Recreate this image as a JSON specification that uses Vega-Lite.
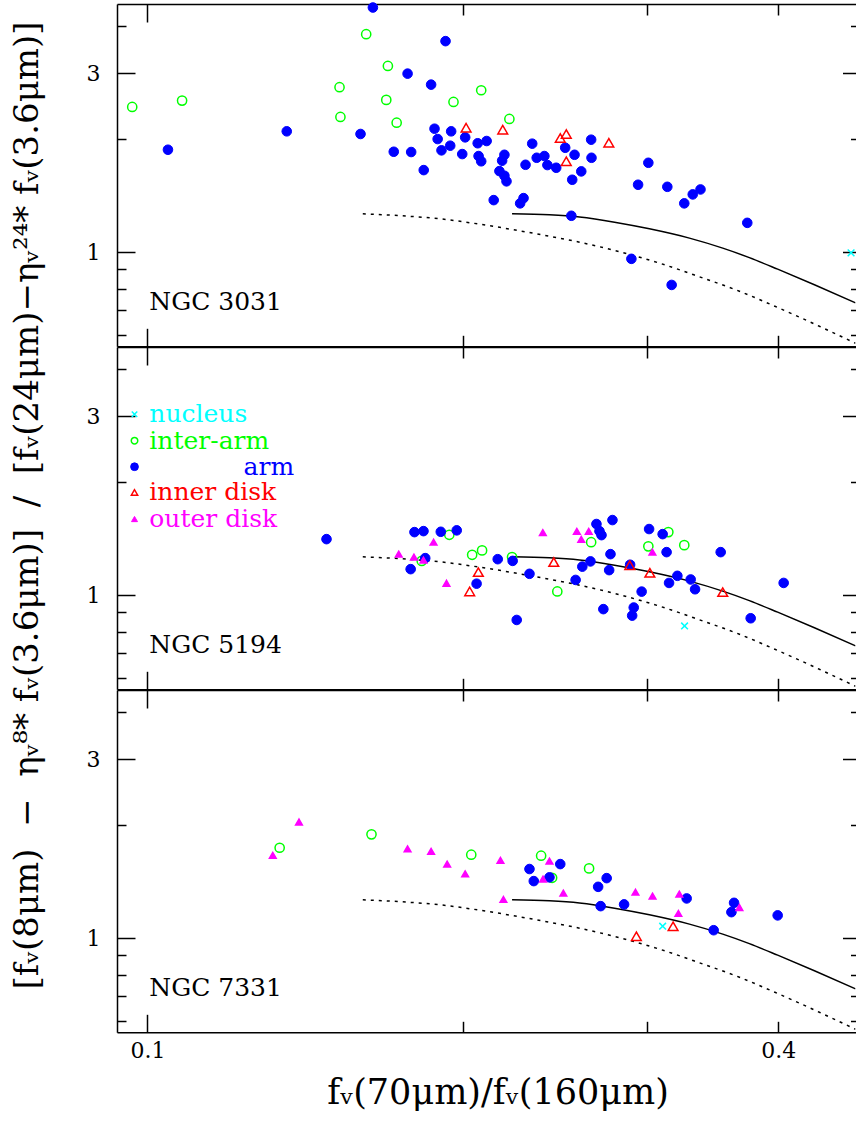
{
  "$schema": "https://vega.github.io/schema/vega-lite/v6.json",
  "padding": {"left": 10, "top": 0, "right": 0, "bottom": 0},
  "bounds": "flush",
  "spacing": 0,
  "config": {
    "view": {"stroke": null},
    "font": "DejaVu Serif",
    "axis": {"grid": false, "domainColor": "#000", "domainWidth": 1.5, "tickColor": "#000", "tickWidth": 1.5, "labelFont": "DejaVu Serif", "labelFontSize": 22, "labelColor": "#000", "titleFont": "DejaVu Serif", "titleFontWeight": "normal", "titleColor": "#000", "labelFlush": false, "labelOverlap": false, "titleLimit": 3000}
  },
  "datasets": {
    "solid": [
      {"x": 0.2228, "y": 1.265}, {"x": 0.2419, "y": 1.257}, {"x": 0.2584, "y": 1.240}, {"x": 0.2791, "y": 1.202}, {"x": 0.3013, "y": 1.154}, {"x": 0.3290, "y": 1.090}, {"x": 0.3540, "y": 1.025}, {"x": 0.3753, "y": 0.967}, {"x": 0.3994, "y": 0.901}, {"x": 0.4330, "y": 0.819}, {"x": 0.4739, "y": 0.733}
    ],
    "dotted": [
      {"x": 0.1605, "y": 1.265}, {"x": 0.1740, "y": 1.251}, {"x": 0.1912, "y": 1.225}, {"x": 0.2104, "y": 1.180}, {"x": 0.2330, "y": 1.124}, {"x": 0.2584, "y": 1.063}, {"x": 0.2821, "y": 1.003}, {"x": 0.3080, "y": 0.935}, {"x": 0.3363, "y": 0.860}, {"x": 0.3672, "y": 0.787}, {"x": 0.4009, "y": 0.709}, {"x": 0.4377, "y": 0.635}, {"x": 0.4739, "y": 0.572}
    ],
    "pts": [
      {"galaxy": "NGC 3031", "type": "inter-arm", "x": 0.0967, "y": 2.436},
      {"galaxy": "NGC 3031", "type": "inter-arm", "x": 0.1079, "y": 2.533},
      {"galaxy": "NGC 3031", "type": "inter-arm", "x": 0.1617, "y": 3.806},
      {"galaxy": "NGC 3031", "type": "inter-arm", "x": 0.1696, "y": 3.133},
      {"galaxy": "NGC 3031", "type": "inter-arm", "x": 0.1525, "y": 2.750},
      {"galaxy": "NGC 3031", "type": "inter-arm", "x": 0.2082, "y": 2.699},
      {"galaxy": "NGC 3031", "type": "inter-arm", "x": 0.1690, "y": 2.544},
      {"galaxy": "NGC 3031", "type": "inter-arm", "x": 0.1959, "y": 2.512},
      {"galaxy": "NGC 3031", "type": "inter-arm", "x": 0.1528, "y": 2.291},
      {"galaxy": "NGC 3031", "type": "inter-arm", "x": 0.1729, "y": 2.212},
      {"galaxy": "NGC 3031", "type": "inter-arm", "x": 0.2215, "y": 2.263},
      {"galaxy": "NGC 3031", "type": "arm", "x": 0.1046, "y": 1.874},
      {"galaxy": "NGC 3031", "type": "arm", "x": 0.1358, "y": 2.098},
      {"galaxy": "NGC 3031", "type": "arm", "x": 0.1641, "y": 4.482},
      {"galaxy": "NGC 3031", "type": "arm", "x": 0.1925, "y": 3.647},
      {"galaxy": "NGC 3031", "type": "arm", "x": 0.1771, "y": 2.988},
      {"galaxy": "NGC 3031", "type": "arm", "x": 0.1865, "y": 2.793},
      {"galaxy": "NGC 3031", "type": "arm", "x": 0.1597, "y": 2.064},
      {"galaxy": "NGC 3031", "type": "arm", "x": 0.1879, "y": 2.132},
      {"galaxy": "NGC 3031", "type": "arm", "x": 0.1949, "y": 2.098},
      {"galaxy": "NGC 3031", "type": "arm", "x": 0.1892, "y": 2.001},
      {"galaxy": "NGC 3031", "type": "arm", "x": 0.2010, "y": 2.022},
      {"galaxy": "NGC 3031", "type": "arm", "x": 0.2066, "y": 1.950},
      {"galaxy": "NGC 3031", "type": "arm", "x": 0.2107, "y": 1.977},
      {"galaxy": "NGC 3031", "type": "arm", "x": 0.1945, "y": 1.921},
      {"galaxy": "NGC 3031", "type": "arm", "x": 0.1908, "y": 1.867},
      {"galaxy": "NGC 3031", "type": "arm", "x": 0.1718, "y": 1.851},
      {"galaxy": "NGC 3031", "type": "arm", "x": 0.1785, "y": 1.848},
      {"galaxy": "NGC 3031", "type": "arm", "x": 0.1997, "y": 1.825},
      {"galaxy": "NGC 3031", "type": "arm", "x": 0.1835, "y": 1.654},
      {"galaxy": "NGC 3031", "type": "arm", "x": 0.2070, "y": 1.803},
      {"galaxy": "NGC 3031", "type": "arm", "x": 0.2082, "y": 1.746},
      {"galaxy": "NGC 3031", "type": "arm", "x": 0.2191, "y": 1.817},
      {"galaxy": "NGC 3031", "type": "arm", "x": 0.2180, "y": 1.752},
      {"galaxy": "NGC 3031", "type": "arm", "x": 0.2167, "y": 1.644},
      {"galaxy": "NGC 3031", "type": "arm", "x": 0.2191, "y": 1.598},
      {"galaxy": "NGC 3031", "type": "arm", "x": 0.2201, "y": 1.544},
      {"galaxy": "NGC 3031", "type": "arm", "x": 0.2140, "y": 1.376},
      {"galaxy": "NGC 3031", "type": "arm", "x": 0.2285, "y": 1.393},
      {"galaxy": "NGC 3031", "type": "arm", "x": 0.2268, "y": 1.349},
      {"galaxy": "NGC 3031", "type": "arm", "x": 0.2329, "y": 1.945},
      {"galaxy": "NGC 3031", "type": "arm", "x": 0.2295, "y": 1.709},
      {"galaxy": "NGC 3031", "type": "arm", "x": 0.2352, "y": 1.784},
      {"galaxy": "NGC 3031", "type": "arm", "x": 0.2392, "y": 1.803},
      {"galaxy": "NGC 3031", "type": "arm", "x": 0.2408, "y": 1.706},
      {"galaxy": "NGC 3031", "type": "arm", "x": 0.2455, "y": 1.678},
      {"galaxy": "NGC 3031", "type": "arm", "x": 0.2504, "y": 1.897},
      {"galaxy": "NGC 3031", "type": "arm", "x": 0.2556, "y": 1.817},
      {"galaxy": "NGC 3031", "type": "arm", "x": 0.2594, "y": 1.641},
      {"galaxy": "NGC 3031", "type": "arm", "x": 0.2543, "y": 1.559},
      {"galaxy": "NGC 3031", "type": "arm", "x": 0.2651, "y": 1.993},
      {"galaxy": "NGC 3031", "type": "arm", "x": 0.2653, "y": 1.784},
      {"galaxy": "NGC 3031", "type": "arm", "x": 0.2538, "y": 1.250},
      {"galaxy": "NGC 3031", "type": "arm", "x": 0.3006, "y": 1.730},
      {"galaxy": "NGC 3031", "type": "arm", "x": 0.2939, "y": 1.512},
      {"galaxy": "NGC 3031", "type": "arm", "x": 0.3134, "y": 1.493},
      {"galaxy": "NGC 3031", "type": "arm", "x": 0.3314, "y": 1.425},
      {"galaxy": "NGC 3031", "type": "arm", "x": 0.3371, "y": 1.469},
      {"galaxy": "NGC 3031", "type": "arm", "x": 0.3253, "y": 1.349},
      {"galaxy": "NGC 3031", "type": "arm", "x": 0.3736, "y": 1.197},
      {"galaxy": "NGC 3031", "type": "arm", "x": 0.2896, "y": 0.960},
      {"galaxy": "NGC 3031", "type": "arm", "x": 0.3164, "y": 0.818},
      {"galaxy": "NGC 3031", "type": "inner disk", "x": 0.2014, "y": 2.145},
      {"galaxy": "NGC 3031", "type": "inner disk", "x": 0.2183, "y": 2.119},
      {"galaxy": "NGC 3031", "type": "inner disk", "x": 0.2477, "y": 2.014},
      {"galaxy": "NGC 3031", "type": "inner disk", "x": 0.2510, "y": 2.064},
      {"galaxy": "NGC 3031", "type": "inner disk", "x": 0.2510, "y": 1.746},
      {"galaxy": "NGC 3031", "type": "inner disk", "x": 0.2756, "y": 1.956},
      {"galaxy": "NGC 3031", "type": "nucleus", "x": 0.4693, "y": 0.996},
      {"galaxy": "NGC 5194", "type": "inter-arm", "x": 0.1827, "y": 1.234},
      {"galaxy": "NGC 5194", "type": "inter-arm", "x": 0.1941, "y": 1.448},
      {"galaxy": "NGC 5194", "type": "inter-arm", "x": 0.2041, "y": 1.281},
      {"galaxy": "NGC 5194", "type": "inter-arm", "x": 0.2086, "y": 1.316},
      {"galaxy": "NGC 5194", "type": "inter-arm", "x": 0.2228, "y": 1.263},
      {"galaxy": "NGC 5194", "type": "inter-arm", "x": 0.2461, "y": 1.023},
      {"galaxy": "NGC 5194", "type": "inter-arm", "x": 0.2651, "y": 1.384},
      {"galaxy": "NGC 5194", "type": "inter-arm", "x": 0.3006, "y": 1.349},
      {"galaxy": "NGC 5194", "type": "inter-arm", "x": 0.3141, "y": 1.472},
      {"galaxy": "NGC 5194", "type": "inter-arm", "x": 0.3253, "y": 1.359},
      {"galaxy": "NGC 5194", "type": "arm", "x": 0.1482, "y": 1.410},
      {"galaxy": "NGC 5194", "type": "arm", "x": 0.1798, "y": 1.472},
      {"galaxy": "NGC 5194", "type": "arm", "x": 0.1834, "y": 1.481},
      {"galaxy": "NGC 5194", "type": "arm", "x": 0.1905, "y": 1.475},
      {"galaxy": "NGC 5194", "type": "arm", "x": 0.1973, "y": 1.488},
      {"galaxy": "NGC 5194", "type": "arm", "x": 0.1841, "y": 1.255},
      {"galaxy": "NGC 5194", "type": "arm", "x": 0.1783, "y": 1.173},
      {"galaxy": "NGC 5194", "type": "arm", "x": 0.2159, "y": 1.247},
      {"galaxy": "NGC 5194", "type": "arm", "x": 0.2231, "y": 1.234},
      {"galaxy": "NGC 5194", "type": "arm", "x": 0.2061, "y": 1.073},
      {"galaxy": "NGC 5194", "type": "arm", "x": 0.2315, "y": 1.140},
      {"galaxy": "NGC 5194", "type": "arm", "x": 0.2251, "y": 0.859},
      {"galaxy": "NGC 5194", "type": "arm", "x": 0.2562, "y": 1.098},
      {"galaxy": "NGC 5194", "type": "arm", "x": 0.2600, "y": 1.191},
      {"galaxy": "NGC 5194", "type": "arm", "x": 0.2647, "y": 1.230},
      {"galaxy": "NGC 5194", "type": "arm", "x": 0.2682, "y": 1.547},
      {"galaxy": "NGC 5194", "type": "arm", "x": 0.2700, "y": 1.481},
      {"galaxy": "NGC 5194", "type": "arm", "x": 0.2712, "y": 1.445},
      {"galaxy": "NGC 5194", "type": "arm", "x": 0.2778, "y": 1.585},
      {"galaxy": "NGC 5194", "type": "arm", "x": 0.2766, "y": 1.286},
      {"galaxy": "NGC 5194", "type": "arm", "x": 0.2758, "y": 1.166},
      {"galaxy": "NGC 5194", "type": "arm", "x": 0.2723, "y": 0.918},
      {"galaxy": "NGC 5194", "type": "arm", "x": 0.2888, "y": 1.205},
      {"galaxy": "NGC 5194", "type": "arm", "x": 0.2962, "y": 1.022},
      {"galaxy": "NGC 5194", "type": "arm", "x": 0.2911, "y": 0.927},
      {"galaxy": "NGC 5194", "type": "arm", "x": 0.2901, "y": 0.882},
      {"galaxy": "NGC 5194", "type": "arm", "x": 0.3011, "y": 1.500},
      {"galaxy": "NGC 5194", "type": "arm", "x": 0.3102, "y": 1.454},
      {"galaxy": "NGC 5194", "type": "arm", "x": 0.3129, "y": 1.302},
      {"galaxy": "NGC 5194", "type": "arm", "x": 0.3146, "y": 1.078},
      {"galaxy": "NGC 5194", "type": "arm", "x": 0.3204, "y": 1.126},
      {"galaxy": "NGC 5194", "type": "arm", "x": 0.3299, "y": 1.101},
      {"galaxy": "NGC 5194", "type": "arm", "x": 0.3331, "y": 1.037},
      {"galaxy": "NGC 5194", "type": "arm", "x": 0.3524, "y": 1.302},
      {"galaxy": "NGC 5194", "type": "arm", "x": 0.3764, "y": 0.868},
      {"galaxy": "NGC 5194", "type": "arm", "x": 0.4047, "y": 1.078},
      {"galaxy": "NGC 5194", "type": "inner disk", "x": 0.2030, "y": 1.023},
      {"galaxy": "NGC 5194", "type": "inner disk", "x": 0.2069, "y": 1.152},
      {"galaxy": "NGC 5194", "type": "inner disk", "x": 0.2442, "y": 1.225},
      {"galaxy": "NGC 5194", "type": "inner disk", "x": 0.2886, "y": 1.202},
      {"galaxy": "NGC 5194", "type": "inner disk", "x": 0.3016, "y": 1.147},
      {"galaxy": "NGC 5194", "type": "inner disk", "x": 0.3540, "y": 1.019},
      {"galaxy": "NGC 5194", "type": "outer disk", "x": 0.1737, "y": 1.286},
      {"galaxy": "NGC 5194", "type": "outer disk", "x": 0.1796, "y": 1.263},
      {"galaxy": "NGC 5194", "type": "outer disk", "x": 0.1834, "y": 1.240},
      {"galaxy": "NGC 5194", "type": "outer disk", "x": 0.1875, "y": 1.384},
      {"galaxy": "NGC 5194", "type": "outer disk", "x": 0.1929, "y": 1.076},
      {"galaxy": "NGC 5194", "type": "outer disk", "x": 0.2384, "y": 1.468},
      {"galaxy": "NGC 5194", "type": "outer disk", "x": 0.2569, "y": 1.479},
      {"galaxy": "NGC 5194", "type": "outer disk", "x": 0.2637, "y": 1.479},
      {"galaxy": "NGC 5194", "type": "outer disk", "x": 0.2594, "y": 1.408},
      {"galaxy": "NGC 5194", "type": "outer disk", "x": 0.3033, "y": 1.302},
      {"galaxy": "NGC 5194", "type": "nucleus", "x": 0.3255, "y": 0.828},
      {"galaxy": "NGC 7331", "type": "inter-arm", "x": 0.1337, "y": 1.741},
      {"galaxy": "NGC 7331", "type": "inter-arm", "x": 0.1636, "y": 1.890},
      {"galaxy": "NGC 7331", "type": "inter-arm", "x": 0.2037, "y": 1.668},
      {"galaxy": "NGC 7331", "type": "inter-arm", "x": 0.2375, "y": 1.658},
      {"galaxy": "NGC 7331", "type": "inter-arm", "x": 0.2433, "y": 1.448},
      {"galaxy": "NGC 7331", "type": "inter-arm", "x": 0.2639, "y": 1.534},
      {"galaxy": "NGC 7331", "type": "arm", "x": 0.2477, "y": 1.575},
      {"galaxy": "NGC 7331", "type": "arm", "x": 0.2315, "y": 1.528},
      {"galaxy": "NGC 7331", "type": "arm", "x": 0.2337, "y": 1.419},
      {"galaxy": "NGC 7331", "type": "arm", "x": 0.2419, "y": 1.452},
      {"galaxy": "NGC 7331", "type": "arm", "x": 0.2743, "y": 1.445},
      {"galaxy": "NGC 7331", "type": "arm", "x": 0.2692, "y": 1.370},
      {"galaxy": "NGC 7331", "type": "arm", "x": 0.2707, "y": 1.217},
      {"galaxy": "NGC 7331", "type": "arm", "x": 0.2850, "y": 1.230},
      {"galaxy": "NGC 7331", "type": "arm", "x": 0.3270, "y": 1.276},
      {"galaxy": "NGC 7331", "type": "arm", "x": 0.3470, "y": 1.050},
      {"galaxy": "NGC 7331", "type": "arm", "x": 0.3629, "y": 1.242},
      {"galaxy": "NGC 7331", "type": "arm", "x": 0.3608, "y": 1.173},
      {"galaxy": "NGC 7331", "type": "arm", "x": 0.3994, "y": 1.150},
      {"galaxy": "NGC 7331", "type": "inner disk", "x": 0.3174, "y": 1.076},
      {"galaxy": "NGC 7331", "type": "inner disk", "x": 0.2928, "y": 1.012},
      {"galaxy": "NGC 7331", "type": "outer disk", "x": 0.1317, "y": 1.662},
      {"galaxy": "NGC 7331", "type": "outer disk", "x": 0.1395, "y": 2.039},
      {"galaxy": "NGC 7331", "type": "outer disk", "x": 0.1771, "y": 1.730},
      {"galaxy": "NGC 7331", "type": "outer disk", "x": 0.1865, "y": 1.703},
      {"galaxy": "NGC 7331", "type": "outer disk", "x": 0.1932, "y": 1.575},
      {"galaxy": "NGC 7331", "type": "outer disk", "x": 0.2010, "y": 1.484},
      {"galaxy": "NGC 7331", "type": "outer disk", "x": 0.2172, "y": 1.611},
      {"galaxy": "NGC 7331", "type": "outer disk", "x": 0.2186, "y": 1.268},
      {"galaxy": "NGC 7331", "type": "outer disk", "x": 0.2419, "y": 1.604},
      {"galaxy": "NGC 7331", "type": "outer disk", "x": 0.2385, "y": 1.437},
      {"galaxy": "NGC 7331", "type": "outer disk", "x": 0.2494, "y": 1.318},
      {"galaxy": "NGC 7331", "type": "outer disk", "x": 0.2922, "y": 1.326},
      {"galaxy": "NGC 7331", "type": "outer disk", "x": 0.3034, "y": 1.294},
      {"galaxy": "NGC 7331", "type": "outer disk", "x": 0.3218, "y": 1.310},
      {"galaxy": "NGC 7331", "type": "outer disk", "x": 0.3211, "y": 1.164},
      {"galaxy": "NGC 7331", "type": "outer disk", "x": 0.3672, "y": 1.207},
      {"galaxy": "NGC 7331", "type": "nucleus", "x": 0.3102, "y": 1.076}
    ]
  },
  "vconcat": [
    {
      "width": 738.5, "height": 342.3,
      "resolve": {"axis": {"x": "independent", "y": "independent"}},
      "layer": [
        {
          "data": {"name": "solid"},
          "mark": {"type": "line", "color": "#000", "strokeWidth": 1.5, "clip": true, "interpolate": "monotone"},
          "encoding": {
            "x": {"field": "x", "type": "quantitative", "scale": {"type": "log", "domain": [0.09352, 0.4739], "nice": false}, "axis": {"orient": "bottom", "values": [0.1], "tickSize": -18, "labels": false, "domain": true, "title": null}},
            "y": {"field": "y", "type": "quantitative", "scale": {"type": "log", "domain": [0.5615, 4.58], "nice": false}, "axis": {"orient": "left", "values": [1, 3], "tickSize": -18, "labelPadding": 35, "format": "~g", "domain": true, "title": null}}
          }
        },
        {
          "data": {"name": "dotted"},
          "mark": {"type": "line", "color": "#000", "strokeWidth": 1.5, "strokeDash": [3, 5], "clip": true, "interpolate": "monotone"},
          "encoding": {
            "x": {"field": "x", "type": "quantitative", "scale": {"type": "log", "domain": [0.09352, 0.4739], "nice": false}, "axis": {"orient": "bottom", "values": [0.2, 0.3, 0.4], "tickSize": -11, "labels": false, "domain": false, "title": null}},
            "y": {"field": "y", "type": "quantitative", "scale": {"type": "log", "domain": [0.5615, 4.58], "nice": false}, "axis": {"orient": "left", "values": [0.6, 0.7, 0.8, 0.9, 2, 4], "tickSize": -9, "labels": false, "domain": false, "title": null}}
          }
        },
        {
          "data": {"values": [{"label": "NGC 3031"}]},
          "mark": {"type": "text", "align": "left", "baseline": "alphabetic", "fontSize": 25, "font": "DejaVu Serif", "color": "#000"},
          "encoding": {
            "x": {"datum": 0.1004, "type": "quantitative", "scale": {"type": "log", "domain": [0.09352, 0.4739], "nice": false}, "axis": {"orient": "top", "values": [0.1], "tickSize": -18, "labels": false, "domain": true, "title": null}},
            "y": {"datum": 0.70, "type": "quantitative", "scale": {"type": "log", "domain": [0.5615, 4.58], "nice": false}, "axis": {"orient": "right", "values": [1, 3], "tickSize": -13, "labels": false, "domain": false, "title": null}},
            "text": {"field": "label"}
          }
        },
        {
          "data": {"name": "pts"},
          "transform": [{"filter": "datum.galaxy == 'NGC 3031' && datum.type == 'inter-arm'"}],
          "mark": {"type": "point", "strokeWidth": 1.5, "opacity": 1, "size": 85},
          "encoding": {
            "x": {"field": "x", "type": "quantitative", "scale": {"type": "log", "domain": [0.09352, 0.4739], "nice": false}, "axis": {"orient": "top", "values": [0.2, 0.3, 0.4], "tickSize": -11, "labels": false, "domain": false, "title": null}},
            "y": {"field": "y", "type": "quantitative", "scale": {"type": "log", "domain": [0.5615, 4.58], "nice": false}, "axis": {"orient": "right", "values": [0.6, 0.7, 0.8, 0.9, 2, 4], "tickSize": -5, "labels": false, "domain": false, "title": null}},
            "shape": {"field": "type", "type": "nominal", "scale": {"domain": ["nucleus", "inter-arm", "arm", "inner disk", "outer disk"], "range": ["M-1,-1L1,1M-1,1L1,-1", "circle", "circle", "triangle-up", "triangle-up"]}, "legend": null},
            "stroke": {"field": "type", "type": "nominal", "scale": {"domain": ["nucleus", "inter-arm", "arm", "inner disk", "outer disk"], "range": ["#00ffff", "#00ff00", "#0000ff", "#ff0000", "#ff00ff"]}, "legend": null},
            "fill": {"field": "type", "type": "nominal", "scale": {"domain": ["nucleus", "inter-arm", "arm", "inner disk", "outer disk"], "range": ["transparent", "transparent", "#0000ff", "transparent", "#ff00ff"]}, "legend": null}
          }
        },
        {
          "data": {"name": "pts"},
          "transform": [{"filter": "datum.galaxy == 'NGC 3031' && datum.type == 'arm'"}],
          "mark": {"type": "point", "strokeWidth": 1, "opacity": 1, "size": 92},
          "encoding": {
            "x": {"field": "x", "type": "quantitative", "scale": {"type": "log", "domain": [0.09352, 0.4739], "nice": false}, "axis": null},
            "y": {"field": "y", "type": "quantitative", "scale": {"type": "log", "domain": [0.5615, 4.58], "nice": false}, "axis": null},
            "shape": {"field": "type", "type": "nominal", "scale": {"domain": ["nucleus", "inter-arm", "arm", "inner disk", "outer disk"], "range": ["M-1,-1L1,1M-1,1L1,-1", "circle", "circle", "triangle-up", "triangle-up"]}, "legend": null},
            "stroke": {"field": "type", "type": "nominal", "scale": {"domain": ["nucleus", "inter-arm", "arm", "inner disk", "outer disk"], "range": ["#00ffff", "#00ff00", "#0000ff", "#ff0000", "#ff00ff"]}, "legend": null},
            "fill": {"field": "type", "type": "nominal", "scale": {"domain": ["nucleus", "inter-arm", "arm", "inner disk", "outer disk"], "range": ["transparent", "transparent", "#0000ff", "transparent", "#ff00ff"]}, "legend": null}
          }
        },
        {
          "data": {"name": "pts"},
          "transform": [{"filter": "datum.galaxy == 'NGC 3031' && datum.type == 'inner disk'"}],
          "mark": {"type": "point", "strokeWidth": 1.5, "opacity": 1, "size": 95},
          "encoding": {
            "x": {"field": "x", "type": "quantitative", "scale": {"type": "log", "domain": [0.09352, 0.4739], "nice": false}, "axis": null},
            "y": {"field": "y", "type": "quantitative", "scale": {"type": "log", "domain": [0.5615, 4.58], "nice": false}, "axis": null},
            "shape": {"field": "type", "type": "nominal", "scale": {"domain": ["nucleus", "inter-arm", "arm", "inner disk", "outer disk"], "range": ["M-1,-1L1,1M-1,1L1,-1", "circle", "circle", "triangle-up", "triangle-up"]}, "legend": null},
            "stroke": {"field": "type", "type": "nominal", "scale": {"domain": ["nucleus", "inter-arm", "arm", "inner disk", "outer disk"], "range": ["#00ffff", "#00ff00", "#0000ff", "#ff0000", "#ff00ff"]}, "legend": null},
            "fill": {"field": "type", "type": "nominal", "scale": {"domain": ["nucleus", "inter-arm", "arm", "inner disk", "outer disk"], "range": ["transparent", "transparent", "#0000ff", "transparent", "#ff00ff"]}, "legend": null}
          }
        },
        {
          "data": {"name": "pts"},
          "transform": [{"filter": "datum.galaxy == 'NGC 3031' && (datum.type == 'nucleus' || datum.type == 'outer disk')"}],
          "mark": {"type": "point", "strokeWidth": 1.5, "opacity": 1, "size": 45},
          "encoding": {
            "x": {"field": "x", "type": "quantitative", "scale": {"type": "log", "domain": [0.09352, 0.4739], "nice": false}, "axis": null},
            "y": {"field": "y", "type": "quantitative", "scale": {"type": "log", "domain": [0.5615, 4.58], "nice": false}, "axis": null},
            "shape": {"field": "type", "type": "nominal", "scale": {"domain": ["nucleus", "inter-arm", "arm", "inner disk", "outer disk"], "range": ["M-1,-1L1,1M-1,1L1,-1", "circle", "circle", "triangle-up", "triangle-up"]}, "legend": null},
            "stroke": {"field": "type", "type": "nominal", "scale": {"domain": ["nucleus", "inter-arm", "arm", "inner disk", "outer disk"], "range": ["#00ffff", "#00ff00", "#0000ff", "#ff0000", "#ff00ff"]}, "legend": null},
            "fill": {"field": "type", "type": "nominal", "scale": {"domain": ["nucleus", "inter-arm", "arm", "inner disk", "outer disk"], "range": ["transparent", "transparent", "#0000ff", "transparent", "#ff00ff"]}, "legend": null}
          }
        }
      ]
    },
    {
      "width": 738.5, "height": 342.3,
      "resolve": {"axis": {"x": "independent", "y": "independent"}},
      "layer": [
        {
          "data": {"name": "solid"},
          "mark": {"type": "line", "color": "#000", "strokeWidth": 1.5, "clip": true, "interpolate": "monotone"},
          "encoding": {
            "x": {"field": "x", "type": "quantitative", "scale": {"type": "log", "domain": [0.09352, 0.4739], "nice": false}, "axis": {"orient": "bottom", "values": [0.1], "tickSize": -18, "labels": false, "domain": true, "title": null}},
            "y": {"field": "y", "type": "quantitative", "scale": {"type": "log", "domain": [0.5615, 4.58], "nice": false}, "axis": {"orient": "left", "values": [1, 3], "tickSize": -18, "labelPadding": 35, "format": "~g", "domain": true, "title": "[fᵥ(8μm)\u00a0\u00a0−\u00a0\u00a0ηᵥ⁸*\u00a0fᵥ(3.6μm)]\u00a0\u00a0/\u00a0\u00a0[fᵥ(24μm)−ηᵥ²⁴*\u00a0fᵥ(3.6μm)]", "titleFontSize": 34, "titlePadding": 42, "titleY": 158, "titleAnchor": "start", "titleAlign": "center"}}
          }
        },
        {
          "data": {"name": "dotted"},
          "mark": {"type": "line", "color": "#000", "strokeWidth": 1.5, "strokeDash": [3, 5], "clip": true, "interpolate": "monotone"},
          "encoding": {
            "x": {"field": "x", "type": "quantitative", "scale": {"type": "log", "domain": [0.09352, 0.4739], "nice": false}, "axis": {"orient": "bottom", "values": [0.2, 0.3, 0.4], "tickSize": -11, "labels": false, "domain": false, "title": null}},
            "y": {"field": "y", "type": "quantitative", "scale": {"type": "log", "domain": [0.5615, 4.58], "nice": false}, "axis": {"orient": "left", "values": [0.6, 0.7, 0.8, 0.9, 2, 4], "tickSize": -9, "labels": false, "domain": false, "title": null}}
          }
        },
        {
          "data": {"values": [{"label": "NGC 5194"}]},
          "mark": {"type": "text", "align": "left", "baseline": "alphabetic", "fontSize": 25, "font": "DejaVu Serif", "color": "#000"},
          "encoding": {
            "x": {"datum": 0.1004, "type": "quantitative", "scale": {"type": "log", "domain": [0.09352, 0.4739], "nice": false}, "axis": {"orient": "top", "values": [0.1], "tickSize": -18, "labels": false, "domain": true, "title": null}},
            "y": {"datum": 0.70, "type": "quantitative", "scale": {"type": "log", "domain": [0.5615, 4.58], "nice": false}, "axis": {"orient": "right", "values": [1, 3], "tickSize": -13, "labels": false, "domain": false, "title": null}},
            "text": {"field": "label"}
          }
        },
        {
          "data": {"name": "pts"},
          "transform": [{"filter": "datum.galaxy == 'NGC 5194' && datum.type == 'inter-arm'"}],
          "mark": {"type": "point", "strokeWidth": 1.5, "opacity": 1, "size": 85},
          "encoding": {
            "x": {"field": "x", "type": "quantitative", "scale": {"type": "log", "domain": [0.09352, 0.4739], "nice": false}, "axis": {"orient": "top", "values": [0.2, 0.3, 0.4], "tickSize": -11, "labels": false, "domain": false, "title": null}},
            "y": {"field": "y", "type": "quantitative", "scale": {"type": "log", "domain": [0.5615, 4.58], "nice": false}, "axis": {"orient": "right", "values": [0.6, 0.7, 0.8, 0.9, 2, 4], "tickSize": -5, "labels": false, "domain": false, "title": null}},
            "shape": {"field": "type", "type": "nominal", "scale": {"domain": ["nucleus", "inter-arm", "arm", "inner disk", "outer disk"], "range": ["M-1,-1L1,1M-1,1L1,-1", "circle", "circle", "triangle-up", "triangle-up"]}, "legend": null},
            "stroke": {"field": "type", "type": "nominal", "scale": {"domain": ["nucleus", "inter-arm", "arm", "inner disk", "outer disk"], "range": ["#00ffff", "#00ff00", "#0000ff", "#ff0000", "#ff00ff"]}, "legend": null},
            "fill": {"field": "type", "type": "nominal", "scale": {"domain": ["nucleus", "inter-arm", "arm", "inner disk", "outer disk"], "range": ["transparent", "transparent", "#0000ff", "transparent", "#ff00ff"]}, "legend": null}
          }
        },
        {
          "data": {"name": "pts"},
          "transform": [{"filter": "datum.galaxy == 'NGC 5194' && datum.type == 'arm'"}],
          "mark": {"type": "point", "strokeWidth": 1, "opacity": 1, "size": 92},
          "encoding": {
            "x": {"field": "x", "type": "quantitative", "scale": {"type": "log", "domain": [0.09352, 0.4739], "nice": false}, "axis": null},
            "y": {"field": "y", "type": "quantitative", "scale": {"type": "log", "domain": [0.5615, 4.58], "nice": false}, "axis": null},
            "shape": {"field": "type", "type": "nominal", "scale": {"domain": ["nucleus", "inter-arm", "arm", "inner disk", "outer disk"], "range": ["M-1,-1L1,1M-1,1L1,-1", "circle", "circle", "triangle-up", "triangle-up"]}, "legend": null},
            "stroke": {"field": "type", "type": "nominal", "scale": {"domain": ["nucleus", "inter-arm", "arm", "inner disk", "outer disk"], "range": ["#00ffff", "#00ff00", "#0000ff", "#ff0000", "#ff00ff"]}, "legend": null},
            "fill": {"field": "type", "type": "nominal", "scale": {"domain": ["nucleus", "inter-arm", "arm", "inner disk", "outer disk"], "range": ["transparent", "transparent", "#0000ff", "transparent", "#ff00ff"]}, "legend": null}
          }
        },
        {
          "data": {"name": "pts"},
          "transform": [{"filter": "datum.galaxy == 'NGC 5194' && datum.type == 'inner disk'"}],
          "mark": {"type": "point", "strokeWidth": 1.5, "opacity": 1, "size": 95},
          "encoding": {
            "x": {"field": "x", "type": "quantitative", "scale": {"type": "log", "domain": [0.09352, 0.4739], "nice": false}, "axis": null},
            "y": {"field": "y", "type": "quantitative", "scale": {"type": "log", "domain": [0.5615, 4.58], "nice": false}, "axis": null},
            "shape": {"field": "type", "type": "nominal", "scale": {"domain": ["nucleus", "inter-arm", "arm", "inner disk", "outer disk"], "range": ["M-1,-1L1,1M-1,1L1,-1", "circle", "circle", "triangle-up", "triangle-up"]}, "legend": null},
            "stroke": {"field": "type", "type": "nominal", "scale": {"domain": ["nucleus", "inter-arm", "arm", "inner disk", "outer disk"], "range": ["#00ffff", "#00ff00", "#0000ff", "#ff0000", "#ff00ff"]}, "legend": null},
            "fill": {"field": "type", "type": "nominal", "scale": {"domain": ["nucleus", "inter-arm", "arm", "inner disk", "outer disk"], "range": ["transparent", "transparent", "#0000ff", "transparent", "#ff00ff"]}, "legend": null}
          }
        },
        {
          "data": {"name": "pts"},
          "transform": [{"filter": "datum.galaxy == 'NGC 5194' && (datum.type == 'nucleus' || datum.type == 'outer disk')"}],
          "mark": {"type": "point", "strokeWidth": 1.5, "opacity": 1, "size": 45},
          "encoding": {
            "x": {"field": "x", "type": "quantitative", "scale": {"type": "log", "domain": [0.09352, 0.4739], "nice": false}, "axis": null},
            "y": {"field": "y", "type": "quantitative", "scale": {"type": "log", "domain": [0.5615, 4.58], "nice": false}, "axis": null},
            "shape": {"field": "type", "type": "nominal", "scale": {"domain": ["nucleus", "inter-arm", "arm", "inner disk", "outer disk"], "range": ["M-1,-1L1,1M-1,1L1,-1", "circle", "circle", "triangle-up", "triangle-up"]}, "legend": null},
            "stroke": {"field": "type", "type": "nominal", "scale": {"domain": ["nucleus", "inter-arm", "arm", "inner disk", "outer disk"], "range": ["#00ffff", "#00ff00", "#0000ff", "#ff0000", "#ff00ff"]}, "legend": null},
            "fill": {"field": "type", "type": "nominal", "scale": {"domain": ["nucleus", "inter-arm", "arm", "inner disk", "outer disk"], "range": ["transparent", "transparent", "#0000ff", "transparent", "#ff00ff"]}, "legend": null}
          }
        },
        {
          "data": {"values": [{"type": "nucleus"}]},
          "mark": {"type": "point", "shape": "M-1,-1L1,1M-1,1L1,-1", "filled": false, "stroke": "#00ffff", "strokeWidth": 1.5, "opacity": 1, "size": 30},
          "encoding": {
            "x": {"datum": 0.09719, "type": "quantitative", "scale": {"type": "log", "domain": [0.09352, 0.4739], "nice": false}, "axis": null},
            "y": {"datum": 3.031, "type": "quantitative", "scale": {"type": "log", "domain": [0.5615, 4.58], "nice": false}, "axis": null}
          }
        },
        {
          "data": {"values": [{"type": "inter-arm"}]},
          "mark": {"type": "point", "shape": "circle", "filled": false, "stroke": "#00ff00", "fill": "transparent", "strokeWidth": 1.5, "opacity": 1, "size": 42},
          "encoding": {
            "x": {"datum": 0.09719, "type": "quantitative", "scale": {"type": "log", "domain": [0.09352, 0.4739], "nice": false}, "axis": null},
            "y": {"datum": 2.579, "type": "quantitative", "scale": {"type": "log", "domain": [0.5615, 4.58], "nice": false}, "axis": null}
          }
        },
        {
          "data": {"values": [{"type": "arm"}]},
          "mark": {"type": "point", "shape": "circle", "filled": true, "fill": "#0000ff", "stroke": "#0000ff", "strokeWidth": 1, "opacity": 1, "size": 60},
          "encoding": {
            "x": {"datum": 0.09719, "type": "quantitative", "scale": {"type": "log", "domain": [0.09352, 0.4739], "nice": false}, "axis": null},
            "y": {"datum": 2.198, "type": "quantitative", "scale": {"type": "log", "domain": [0.5615, 4.58], "nice": false}, "axis": null}
          }
        },
        {
          "data": {"values": [{"type": "inner disk"}]},
          "mark": {"type": "point", "shape": "triangle-up", "filled": false, "stroke": "#ff0000", "fill": "transparent", "strokeWidth": 1.5, "opacity": 1, "size": 40},
          "encoding": {
            "x": {"datum": 0.09719, "type": "quantitative", "scale": {"type": "log", "domain": [0.09352, 0.4739], "nice": false}, "axis": null},
            "y": {"datum": 1.877, "type": "quantitative", "scale": {"type": "log", "domain": [0.5615, 4.58], "nice": false}, "axis": null}
          }
        },
        {
          "data": {"values": [{"type": "outer disk"}]},
          "mark": {"type": "point", "shape": "triangle-up", "filled": true, "fill": "#ff00ff", "stroke": "#ff00ff", "strokeWidth": 1, "opacity": 1, "size": 36},
          "encoding": {
            "x": {"datum": 0.09719, "type": "quantitative", "scale": {"type": "log", "domain": [0.09352, 0.4739], "nice": false}, "axis": null},
            "y": {"datum": 1.595, "type": "quantitative", "scale": {"type": "log", "domain": [0.5615, 4.58], "nice": false}, "axis": null}
          }
        },
        {
          "data": {"values": [{"label": "nucleus"}]},
          "mark": {"type": "text", "align": "left", "baseline": "middle", "fontSize": 25, "font": "DejaVu Serif", "color": "#00ffff"},
          "encoding": {
            "x": {"datum": 0.1004, "type": "quantitative", "scale": {"type": "log", "domain": [0.09352, 0.4739], "nice": false}, "axis": null},
            "y": {"datum": 3.031, "type": "quantitative", "scale": {"type": "log", "domain": [0.5615, 4.58], "nice": false}, "axis": null},
            "text": {"field": "label"}
          }
        },
        {
          "data": {"values": [{"label": "inter-arm"}]},
          "mark": {"type": "text", "align": "left", "baseline": "middle", "fontSize": 25, "font": "DejaVu Serif", "color": "#00ff00"},
          "encoding": {
            "x": {"datum": 0.1004, "type": "quantitative", "scale": {"type": "log", "domain": [0.09352, 0.4739], "nice": false}, "axis": null},
            "y": {"datum": 2.579, "type": "quantitative", "scale": {"type": "log", "domain": [0.5615, 4.58], "nice": false}, "axis": null},
            "text": {"field": "label"}
          }
        },
        {
          "data": {"values": [{"label": "arm"}]},
          "mark": {"type": "text", "align": "left", "baseline": "middle", "fontSize": 25, "font": "DejaVu Serif", "color": "#0000ff"},
          "encoding": {
            "x": {"datum": 0.1235, "type": "quantitative", "scale": {"type": "log", "domain": [0.09352, 0.4739], "nice": false}, "axis": null},
            "y": {"datum": 2.198, "type": "quantitative", "scale": {"type": "log", "domain": [0.5615, 4.58], "nice": false}, "axis": null},
            "text": {"field": "label"}
          }
        },
        {
          "data": {"values": [{"label": "inner disk"}]},
          "mark": {"type": "text", "align": "left", "baseline": "middle", "fontSize": 25, "font": "DejaVu Serif", "color": "#ff0000"},
          "encoding": {
            "x": {"datum": 0.1004, "type": "quantitative", "scale": {"type": "log", "domain": [0.09352, 0.4739], "nice": false}, "axis": null},
            "y": {"datum": 1.877, "type": "quantitative", "scale": {"type": "log", "domain": [0.5615, 4.58], "nice": false}, "axis": null},
            "text": {"field": "label"}
          }
        },
        {
          "data": {"values": [{"label": "outer disk"}]},
          "mark": {"type": "text", "align": "left", "baseline": "middle", "fontSize": 25, "font": "DejaVu Serif", "color": "#ff00ff"},
          "encoding": {
            "x": {"datum": 0.1004, "type": "quantitative", "scale": {"type": "log", "domain": [0.09352, 0.4739], "nice": false}, "axis": null},
            "y": {"datum": 1.595, "type": "quantitative", "scale": {"type": "log", "domain": [0.5615, 4.58], "nice": false}, "axis": null},
            "text": {"field": "label"}
          }
        }
      ]
    },
    {
      "width": 738.5, "height": 342.3,
      "resolve": {"axis": {"x": "independent", "y": "independent"}},
      "layer": [
        {
          "data": {"name": "solid"},
          "mark": {"type": "line", "color": "#000", "strokeWidth": 1.5, "clip": true, "interpolate": "monotone"},
          "encoding": {
            "x": {"field": "x", "type": "quantitative", "scale": {"type": "log", "domain": [0.09352, 0.4739], "nice": false}, "axis": {"orient": "bottom", "values": [0.1], "tickSize": -18, "labelPadding": 26, "format": "~g", "domain": true, "title": "fᵥ(70μm)/fᵥ(160μm)", "titleFontSize": 35, "titlePadding": 14, "titleX": 380.5, "titleAnchor": "start", "titleAlign": "center"}},
            "y": {"field": "y", "type": "quantitative", "scale": {"type": "log", "domain": [0.5615, 4.58], "nice": false}, "axis": {"orient": "left", "values": [1, 3], "tickSize": -18, "labelPadding": 35, "format": "~g", "domain": true, "title": null}}
          }
        },
        {
          "data": {"name": "dotted"},
          "mark": {"type": "line", "color": "#000", "strokeWidth": 1.5, "strokeDash": [3, 5], "clip": true, "interpolate": "monotone"},
          "encoding": {
            "x": {"field": "x", "type": "quantitative", "scale": {"type": "log", "domain": [0.09352, 0.4739], "nice": false}, "axis": {"orient": "bottom", "values": [0.2, 0.3, 0.4], "tickSize": -11, "labelPadding": 19, "labelExpr": "datum.value == 0.4 ? '0.4' : ''", "domain": false, "title": null}},
            "y": {"field": "y", "type": "quantitative", "scale": {"type": "log", "domain": [0.5615, 4.58], "nice": false}, "axis": {"orient": "left", "values": [0.6, 0.7, 0.8, 0.9, 2, 4], "tickSize": -9, "labels": false, "domain": false, "title": null}}
          }
        },
        {
          "data": {"values": [{"label": "NGC 7331"}]},
          "mark": {"type": "text", "align": "left", "baseline": "alphabetic", "fontSize": 25, "font": "DejaVu Serif", "color": "#000"},
          "encoding": {
            "x": {"datum": 0.1004, "type": "quantitative", "scale": {"type": "log", "domain": [0.09352, 0.4739], "nice": false}, "axis": {"orient": "top", "values": [0.1], "tickSize": -18, "labels": false, "domain": true, "title": null}},
            "y": {"datum": 0.70, "type": "quantitative", "scale": {"type": "log", "domain": [0.5615, 4.58], "nice": false}, "axis": {"orient": "right", "values": [1, 3], "tickSize": -13, "labels": false, "domain": false, "title": null}},
            "text": {"field": "label"}
          }
        },
        {
          "data": {"name": "pts"},
          "transform": [{"filter": "datum.galaxy == 'NGC 7331' && datum.type == 'inter-arm'"}],
          "mark": {"type": "point", "strokeWidth": 1.5, "opacity": 1, "size": 85},
          "encoding": {
            "x": {"field": "x", "type": "quantitative", "scale": {"type": "log", "domain": [0.09352, 0.4739], "nice": false}, "axis": {"orient": "top", "values": [0.2, 0.3, 0.4], "tickSize": -11, "labels": false, "domain": false, "title": null}},
            "y": {"field": "y", "type": "quantitative", "scale": {"type": "log", "domain": [0.5615, 4.58], "nice": false}, "axis": {"orient": "right", "values": [0.6, 0.7, 0.8, 0.9, 2, 4], "tickSize": -5, "labels": false, "domain": false, "title": null}},
            "shape": {"field": "type", "type": "nominal", "scale": {"domain": ["nucleus", "inter-arm", "arm", "inner disk", "outer disk"], "range": ["M-1,-1L1,1M-1,1L1,-1", "circle", "circle", "triangle-up", "triangle-up"]}, "legend": null},
            "stroke": {"field": "type", "type": "nominal", "scale": {"domain": ["nucleus", "inter-arm", "arm", "inner disk", "outer disk"], "range": ["#00ffff", "#00ff00", "#0000ff", "#ff0000", "#ff00ff"]}, "legend": null},
            "fill": {"field": "type", "type": "nominal", "scale": {"domain": ["nucleus", "inter-arm", "arm", "inner disk", "outer disk"], "range": ["transparent", "transparent", "#0000ff", "transparent", "#ff00ff"]}, "legend": null}
          }
        },
        {
          "data": {"name": "pts"},
          "transform": [{"filter": "datum.galaxy == 'NGC 7331' && datum.type == 'arm'"}],
          "mark": {"type": "point", "strokeWidth": 1, "opacity": 1, "size": 92},
          "encoding": {
            "x": {"field": "x", "type": "quantitative", "scale": {"type": "log", "domain": [0.09352, 0.4739], "nice": false}, "axis": null},
            "y": {"field": "y", "type": "quantitative", "scale": {"type": "log", "domain": [0.5615, 4.58], "nice": false}, "axis": null},
            "shape": {"field": "type", "type": "nominal", "scale": {"domain": ["nucleus", "inter-arm", "arm", "inner disk", "outer disk"], "range": ["M-1,-1L1,1M-1,1L1,-1", "circle", "circle", "triangle-up", "triangle-up"]}, "legend": null},
            "stroke": {"field": "type", "type": "nominal", "scale": {"domain": ["nucleus", "inter-arm", "arm", "inner disk", "outer disk"], "range": ["#00ffff", "#00ff00", "#0000ff", "#ff0000", "#ff00ff"]}, "legend": null},
            "fill": {"field": "type", "type": "nominal", "scale": {"domain": ["nucleus", "inter-arm", "arm", "inner disk", "outer disk"], "range": ["transparent", "transparent", "#0000ff", "transparent", "#ff00ff"]}, "legend": null}
          }
        },
        {
          "data": {"name": "pts"},
          "transform": [{"filter": "datum.galaxy == 'NGC 7331' && datum.type == 'inner disk'"}],
          "mark": {"type": "point", "strokeWidth": 1.5, "opacity": 1, "size": 95},
          "encoding": {
            "x": {"field": "x", "type": "quantitative", "scale": {"type": "log", "domain": [0.09352, 0.4739], "nice": false}, "axis": null},
            "y": {"field": "y", "type": "quantitative", "scale": {"type": "log", "domain": [0.5615, 4.58], "nice": false}, "axis": null},
            "shape": {"field": "type", "type": "nominal", "scale": {"domain": ["nucleus", "inter-arm", "arm", "inner disk", "outer disk"], "range": ["M-1,-1L1,1M-1,1L1,-1", "circle", "circle", "triangle-up", "triangle-up"]}, "legend": null},
            "stroke": {"field": "type", "type": "nominal", "scale": {"domain": ["nucleus", "inter-arm", "arm", "inner disk", "outer disk"], "range": ["#00ffff", "#00ff00", "#0000ff", "#ff0000", "#ff00ff"]}, "legend": null},
            "fill": {"field": "type", "type": "nominal", "scale": {"domain": ["nucleus", "inter-arm", "arm", "inner disk", "outer disk"], "range": ["transparent", "transparent", "#0000ff", "transparent", "#ff00ff"]}, "legend": null}
          }
        },
        {
          "data": {"name": "pts"},
          "transform": [{"filter": "datum.galaxy == 'NGC 7331' && (datum.type == 'nucleus' || datum.type == 'outer disk')"}],
          "mark": {"type": "point", "strokeWidth": 1.5, "opacity": 1, "size": 45},
          "encoding": {
            "x": {"field": "x", "type": "quantitative", "scale": {"type": "log", "domain": [0.09352, 0.4739], "nice": false}, "axis": null},
            "y": {"field": "y", "type": "quantitative", "scale": {"type": "log", "domain": [0.5615, 4.58], "nice": false}, "axis": null},
            "shape": {"field": "type", "type": "nominal", "scale": {"domain": ["nucleus", "inter-arm", "arm", "inner disk", "outer disk"], "range": ["M-1,-1L1,1M-1,1L1,-1", "circle", "circle", "triangle-up", "triangle-up"]}, "legend": null},
            "stroke": {"field": "type", "type": "nominal", "scale": {"domain": ["nucleus", "inter-arm", "arm", "inner disk", "outer disk"], "range": ["#00ffff", "#00ff00", "#0000ff", "#ff0000", "#ff00ff"]}, "legend": null},
            "fill": {"field": "type", "type": "nominal", "scale": {"domain": ["nucleus", "inter-arm", "arm", "inner disk", "outer disk"], "range": ["transparent", "transparent", "#0000ff", "transparent", "#ff00ff"]}, "legend": null}
          }
        }
      ]
    }
  ]
}
